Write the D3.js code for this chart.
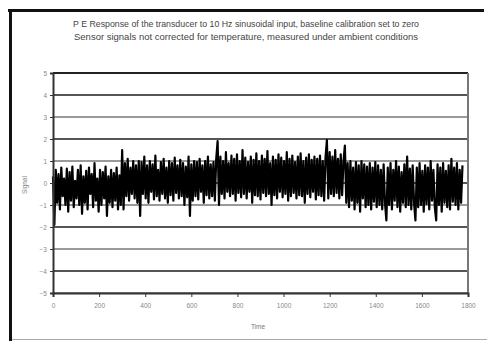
<!DOCTYPE html>
<html><head><meta charset="utf-8">
<script src="https://cdn.jsdelivr.net/npm/d3@7"></script>
<style>body{margin:0;background:#fff;}svg{display:block;font-family:"Liberation Sans",Arial,sans-serif;}</style>
</head><body>
<svg id="c" width="487" height="341"></svg>
<script>
const titleLines = [
  "P E Response of the transducer to 10 Hz sinusoidal input, baseline calibration set to zero",
  "Sensor signals not corrected for temperature, measured under ambient conditions"
];
const xTitle = "Time";
const yTitle = "Signal";
const xTicks = [0, 200, 400, 600, 800, 1000, 1200, 1400, 1600, 1800];
const yTicks = [5, 4, 3, 2, 1, 0, -1, -2, -3, -4, -5];
const sampleStep = 6;
const signal = [
  0.3,-1.9,0.6,-0.9,0.4,-1.2,0.7,-0.6,0.2,-1.0,
  0.65,-1.3,0.5,-0.8,0.75,-1.1,0.1,-0.7,0.6,-1.0,
  0.8,-1.4,0.3,-0.9,0.55,-1.2,0.7,-0.5,0.4,-1.1,
  0.9,-0.8,0.2,-1.3,0.6,-1.0,0.5,-0.7,0.75,-1.5,
  0.3,-0.9,0.6,-1.1,0.45,-0.8,0.7,-1.2,0.35,-1.0,
  1.5,-1.2,0.9,-0.6,1.1,-0.8,0.7,-0.5,1.0,-0.7,
  0.8,-0.9,1.0,-1.5,0.95,-0.5,1.2,-0.7,0.8,-0.9,
  1.0,-0.4,0.85,-0.75,1.25,-0.6,0.6,-0.8,0.95,-0.5,
  1.1,-0.7,0.7,-0.9,1.0,-0.55,0.9,-0.8,1.15,-0.45,
  0.8,-0.7,1.05,-0.6,0.9,-1.0,0.75,-0.65,1.2,-1.5,
  0.85,-0.8,1.0,-0.6,0.95,-0.75,1.1,-0.4,0.8,-0.9,
  1.0,-0.55,1.2,-0.7,0.85,-0.6,0.95,-0.8,1.1,1.9,
  -1.0,1.2,-0.5,1.0,-0.7,1.4,-0.4,0.9,-0.6,1.25,
  -0.5,1.1,-0.8,1.3,-0.45,1.0,-0.65,1.5,-0.5,1.15,
  -0.7,0.95,-0.4,1.2,-0.9,1.05,-0.55,1.35,-0.6,1.0,
  -0.75,1.25,-0.45,1.1,-0.6,1.45,-0.5,0.9,-1.0,1.2,
  -0.55,1.05,-0.7,1.3,-0.4,1.15,-0.65,1.0,-0.5,1.4,
  -0.8,1.1,-0.6,1.25,-0.45,0.95,-0.7,1.2,-0.55,1.35,
  -0.6,1.0,-0.9,1.15,-0.5,1.3,-0.65,1.05,-0.4,1.2,
  -0.75,1.1,-0.55,1.25,-0.6,1.0,-0.8,1.15,1.95,-0.7,
  1.4,-0.5,1.2,-0.6,1.5,-0.45,1.1,-0.7,1.3,-0.55,
  1.0,1.7,-0.9,0.9,-1.1,1.0,-0.8,0.7,-1.2,0.95,
  -0.9,0.8,-1.3,1.0,-0.7,0.85,-1.1,0.75,-1.0,0.9,
  -1.2,0.7,-0.85,0.95,-1.1,0.8,-1.0,0.6,-1.2,0.85,
  -0.9,-1.7,0.7,-1.0,0.9,-1.2,0.6,-0.8,1.0,-1.1,
  0.75,-1.3,0.5,-0.9,0.85,-1.1,1.2,-1.0,0.65,-1.2,
  0.8,-0.9,-1.7,0.7,-1.1,0.9,-1.0,0.55,-1.3,0.8,
  -0.95,0.7,-1.2,1.0,-0.8,0.6,-1.1,-1.7,0.85,-1.0,
  0.7,-1.3,0.9,-0.9,0.55,-1.1,0.8,-1.2,1.1,-0.85,
  0.7,-1.0,0.9,-1.2,0.6,-0.9,0.8
];

const svg = d3.select("#c");
// outer frame
svg.append("line").attr("x1",8).attr("x2",484).attr("y1",10.5).attr("y2",10.5).attr("stroke","#111").attr("stroke-width",3);
svg.append("line").attr("x1",10.5).attr("x2",10.5).attr("y1",9).attr("y2",341).attr("stroke","#111").attr("stroke-width",3);
svg.append("line").attr("x1",12).attr("x2",487).attr("y1",339.5).attr("y2",339.5).attr("stroke","#aaa").attr("stroke-width",1);

const L = 53, R = 468, T = 73, B = 293;
const x = d3.scaleLinear().domain([0, 1800]).range([L, R]);
const y = d3.scaleLinear().domain([-5, 5]).range([B, T]);

// title
svg.append("g").selectAll("text").data(titleLines).join("text")
  .attr("x", 246).attr("y", (d,i) => 27 + i*13)
  .attr("text-anchor","middle").attr("font-size",8.6).attr("fill","#444")
  .attr("textLength", (d,i) => i === 0 ? 346 : 344).attr("lengthAdjust","spacingAndGlyphs")
  .text(d => d);

// gridlines
svg.append("g").selectAll("line").data(yTicks).join("line")
  .attr("x1", L).attr("x2", R).attr("y1", d => y(d)).attr("y2", d => y(d))
  .attr("stroke", d => d === 5 ? "#222" : (Math.abs(d) % 2 === 1 ? "#9a9a9a" : "#555"))
  .attr("stroke-width", 2);

// right border
svg.append("line").attr("x1",R).attr("x2",R).attr("y1",T).attr("y2",B).attr("stroke","#777").attr("stroke-width",2);

// data line
const line = d3.line().x((d,i) => x(i*sampleStep)).y(d => y(d));
svg.append("path").datum(signal).attr("d", line).attr("fill","none")
  .attr("stroke","#000").attr("stroke-width",2.2).attr("stroke-linejoin","round");

// axes
const yAxis = d3.axisLeft(y).tickValues(yTicks).tickSize(3).tickFormat(d3.format("d"));
const gy = svg.append("g").attr("transform",`translate(${L},0)`).call(yAxis);
gy.select(".domain").attr("stroke","#333").attr("stroke-width",2);
gy.selectAll(".tick line").attr("stroke","#333");
gy.selectAll("text").attr("font-size",6.5).attr("fill","#888").attr("font-family","Liberation Sans, Arial");

const xAxis = d3.axisBottom(x).tickValues(xTicks).tickSize(4).tickFormat(d3.format("d"));
const gx = svg.append("g").attr("transform",`translate(0,${B})`).call(xAxis);
gx.select(".domain").attr("stroke","#333").attr("stroke-width",2);
gx.selectAll(".tick line").attr("stroke","#333");
gx.selectAll("text").attr("font-size",6.5).attr("fill","#888").attr("dy","1.2em").attr("font-family","Liberation Sans, Arial");

// axis titles
svg.append("text").attr("x",258).attr("y",329).attr("text-anchor","middle").attr("font-size",6.5).attr("fill","#777").text(xTitle);
svg.append("text").attr("transform","translate(27,185) rotate(-90)").attr("text-anchor","middle").attr("font-size",6.5).attr("fill","#888").text(yTitle);
</script>
</body></html>
